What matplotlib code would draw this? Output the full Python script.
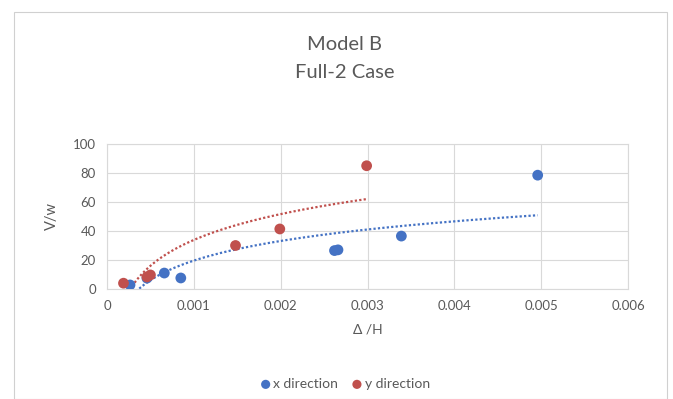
import numpy as np
import matplotlib.pyplot as plt
from matplotlib.patches import Rectangle

plt.rcParams['font.family'] = ['Lato', 'DejaVu Sans']

# data
x_dir_d = [0.000265, 0.00046, 0.00066, 0.00085, 0.00262, 0.00266, 0.00339, 0.00496]
x_dir_v = [2.8, 7.5, 11, 7.6, 26.5, 27, 36.5, 78.5]
y_dir_d = [0.00019, 0.00046, 0.00050, 0.00148, 0.00199, 0.00299]
y_dir_v = [4, 8.3, 9.7, 30, 41.4, 85]

blue = '#4472C4'
red = '#C0504D'
grey = '#595959'
grid = '#D9D9D9'

fig = plt.figure(figsize=(6.73, 3.99), dpi=100)
fig.patches.append(Rectangle((14/673, 0.0), 653/673, 1 - 12/399, transform=fig.transFigure,
                             fill=False, edgecolor='#D0D0D0', linewidth=0.8))
ax = fig.add_axes([107/673, 1 - 289/399, (628 - 107)/673, (289 - 144)/399])


def log_trend(xs, ys):
    # excel style logarithmic trendline
    a, b = np.polyfit(np.log(xs), ys, 1)
    xx = np.linspace(min(xs), max(xs), 200)
    return xx, a*np.log(xx) + b


for xs, ys, c, lab in [(x_dir_d, x_dir_v, blue, 'x direction'), (y_dir_d, y_dir_v, red, 'y direction')]:
    xx, yy = log_trend(xs, ys)
    ax.plot(xx, yy, color=c, linestyle=(0, (1, 1)), linewidth=1.6, zorder=2)
    ax.scatter(xs, ys, s=60, color=c, label=lab, zorder=3, edgecolors='none')

ax.set_xlim(0, 0.006)
ax.set_ylim(0, 100)
ax.set_xticks(np.arange(0, 0.0061, 0.001))
ax.set_xticklabels(['0', '0.001', '0.002', '0.003', '0.004', '0.005', '0.006'])
ax.set_yticks(range(0, 101, 20))
ax.grid(True, color=grid, linewidth=0.8)
ax.set_axisbelow(True)
for s in ax.spines.values():
    s.set_color(grid)
    s.set_linewidth(0.8)
ax.tick_params(length=0, colors=grey, labelsize=9.5, pad=8)
ax.set_xlabel('Δ /H', color=grey, fontsize=10, labelpad=8)
ax.set_ylabel('V/w', color=grey, fontsize=10.5, labelpad=10)

fig.text(0.512, 1 - 44/399, 'Model B', ha='center', va='center', fontsize=14.5, color=grey)
fig.text(0.512, 1 - 73/399, 'Full-2 Case', ha='center', va='center', fontsize=14.5, color=grey)

fig.legend(loc='center', bbox_to_anchor=(0.513, 1 - 384/399), ncol=2, frameon=False,
           fontsize=10, labelcolor=grey, handlelength=0.7, handletextpad=0.2,
           columnspacing=1.0, markerscale=0.85)

fig.savefig('out.png', dpi=100)
